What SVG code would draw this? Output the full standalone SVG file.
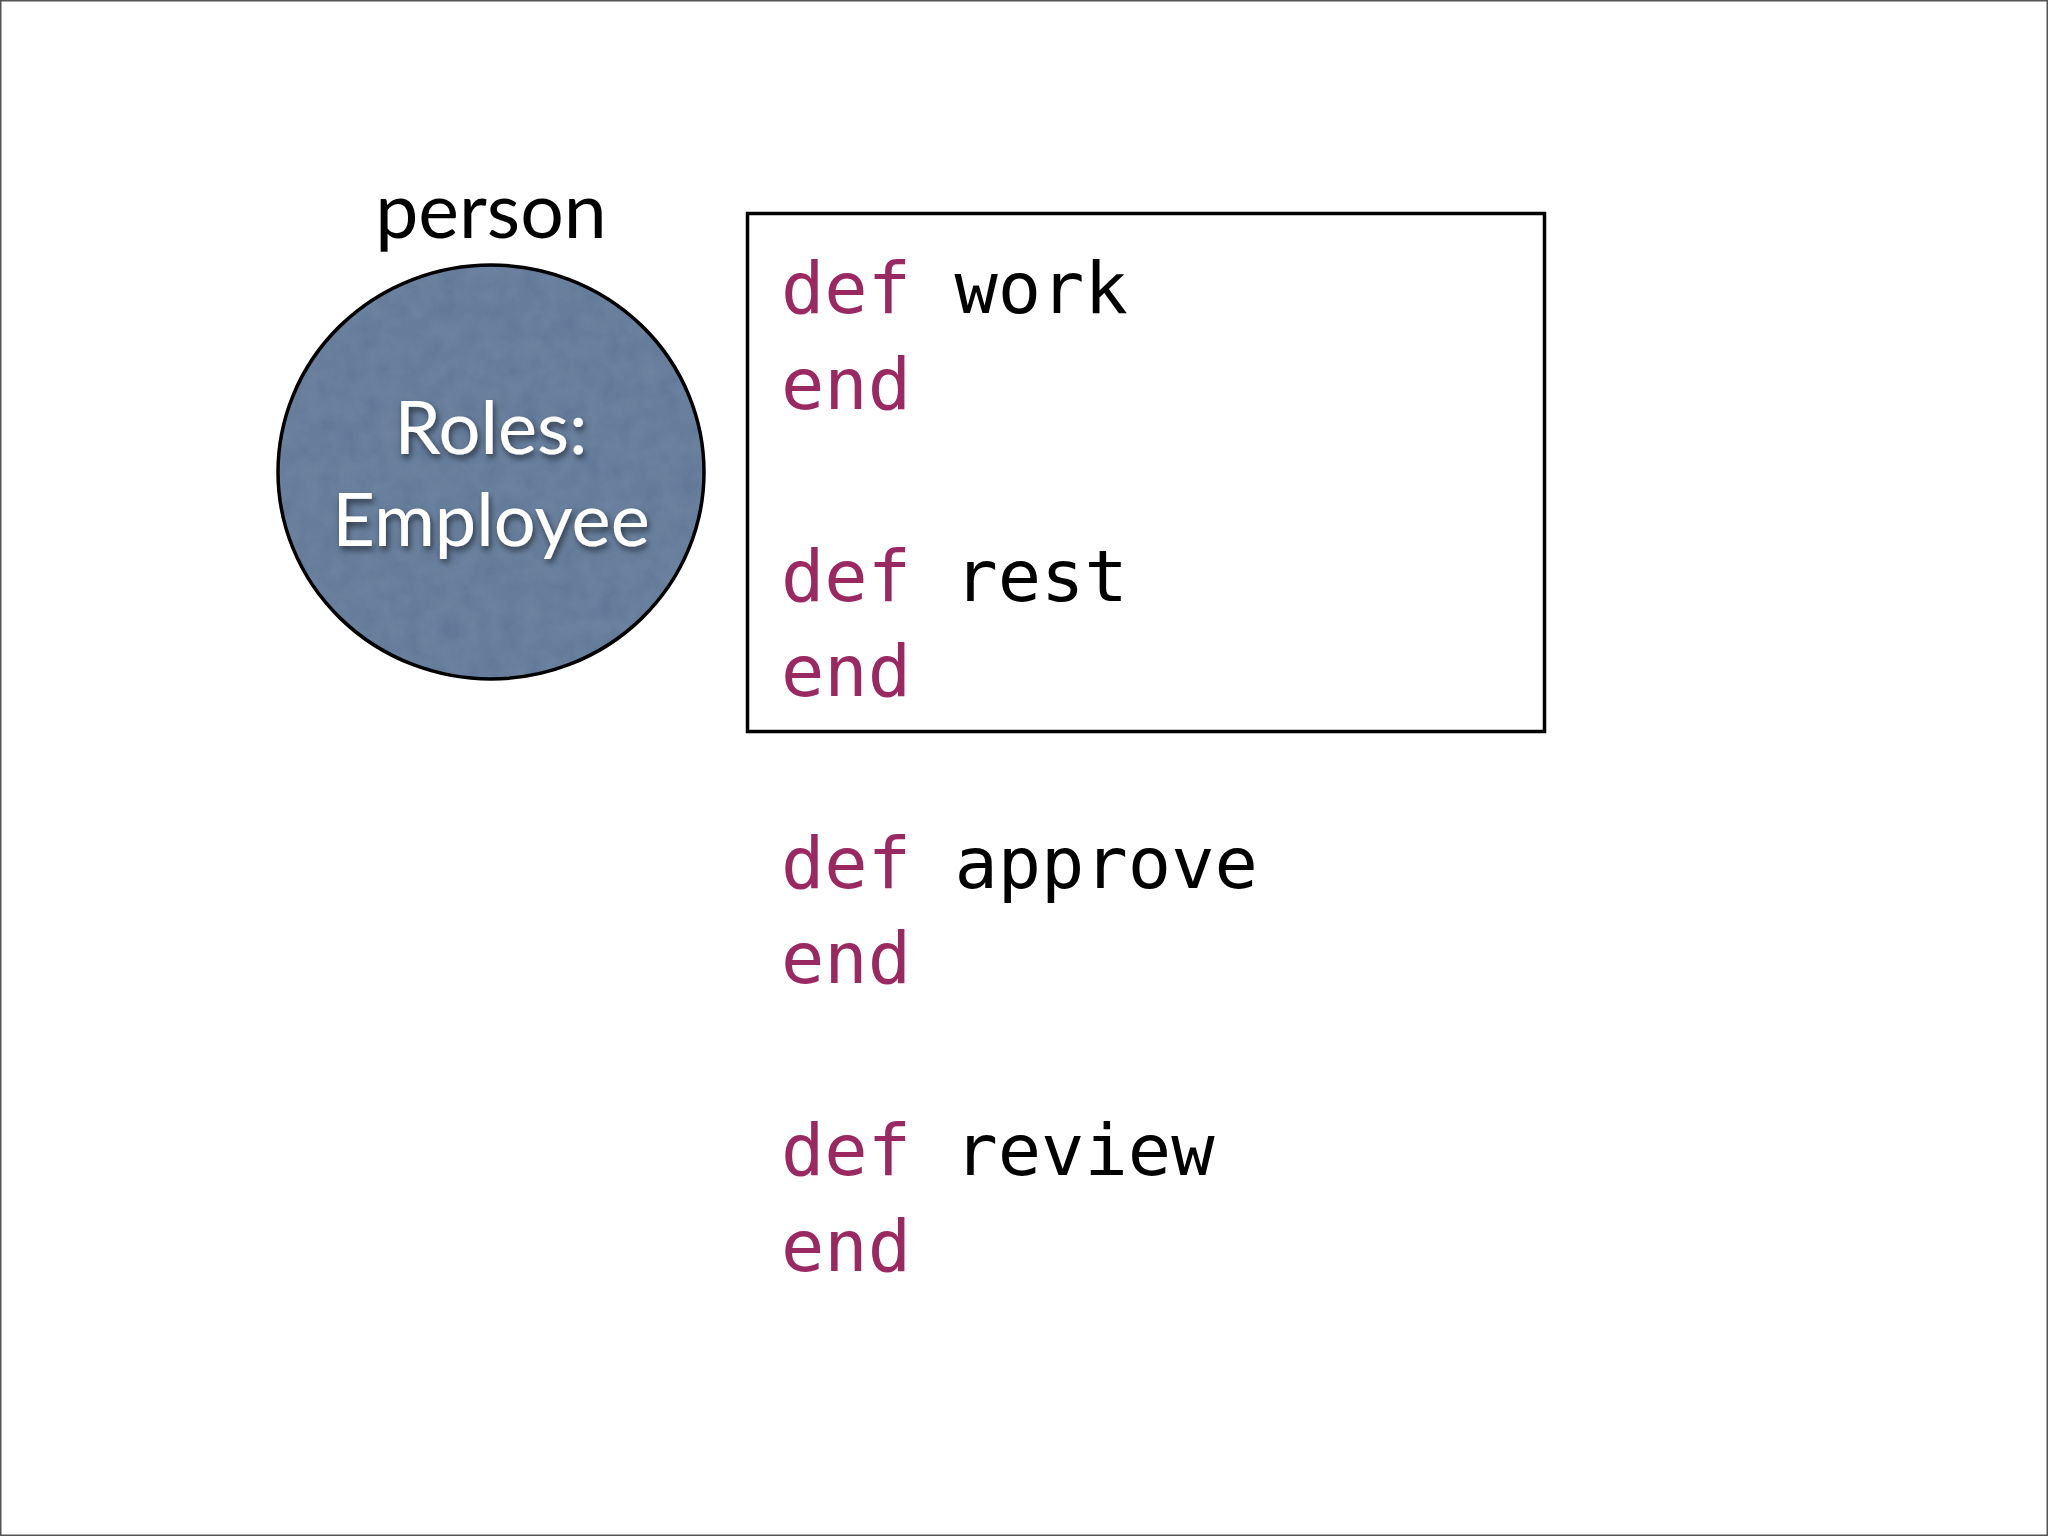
<svg xmlns="http://www.w3.org/2000/svg" width="2048" height="1536" viewBox="0 0 2048 1536">
<defs>
<style>
.code{font-family:"DejaVu Sans Mono",monospace;font-size:72px;fill:#000}
.kw{fill:#9a2962}
.label{font-family:"Lato","Liberation Sans",sans-serif;font-size:77px;fill:#000;text-anchor:middle}
.role{font-family:"Lato","Liberation Sans",sans-serif;font-size:74px;fill:#fff;text-anchor:middle}
</style>
<filter id="shadow" x="-20%" y="-20%" width="140%" height="140%">
<feDropShadow dx="2" dy="4" stdDeviation="3" flood-color="#000" flood-opacity="0.55"/>
</filter>
<filter id="tex" x="0" y="0" width="100%" height="100%">
<feTurbulence type="fractalNoise" baseFrequency="0.05" numOctaves="3" result="n"/>
<feColorMatrix in="n" type="matrix" values="0 0 0 0 0.37  0 0 0 0 0.47  0 0 0 0 0.59  0 0 0 0.18 0" result="c"/>
<feComposite in="c" in2="SourceGraphic" operator="in" result="m"/>
<feMerge><feMergeNode in="SourceGraphic"/><feMergeNode in="m"/></feMerge>
</filter>
</defs>
<rect x="0" y="0" width="2048" height="1536" fill="#fff"/>
<rect x="0.75" y="0.75" width="2046.5" height="1534.5" fill="none" stroke="#555" stroke-width="1.5"/>
<g id="person">
<text class="label" x="491" y="238">person</text>
<ellipse cx="491" cy="472" rx="213" ry="207" fill="#5f7797" filter="url(#tex)"/>
<ellipse cx="491" cy="472" rx="213" ry="207" fill="none" stroke="#000" stroke-width="3.5"/>
<text class="role" x="491" y="454" filter="url(#shadow)">Roles:</text>
<text class="role" x="491" y="546" filter="url(#shadow)">Employee</text>
</g>
<g id="employee-methods">
<rect x="747.5" y="213.5" width="797" height="518" fill="none" stroke="#000" stroke-width="3.5"/>
<text class="code" x="781" y="313"><tspan class="kw">def</tspan> work</text>
<text class="code kw" x="781" y="409">end</text>
<text class="code" x="781" y="601"><tspan class="kw">def</tspan> rest</text>
<text class="code kw" x="781" y="696">end</text>
</g>
<g id="other-methods">
<text class="code" x="781" y="888"><tspan class="kw">def</tspan> approve</text>
<text class="code kw" x="781" y="983">end</text>
<text class="code" x="781" y="1175"><tspan class="kw">def</tspan> review</text>
<text class="code kw" x="781" y="1271">end</text>
</g>
<g id="connectors"/>
</svg>
